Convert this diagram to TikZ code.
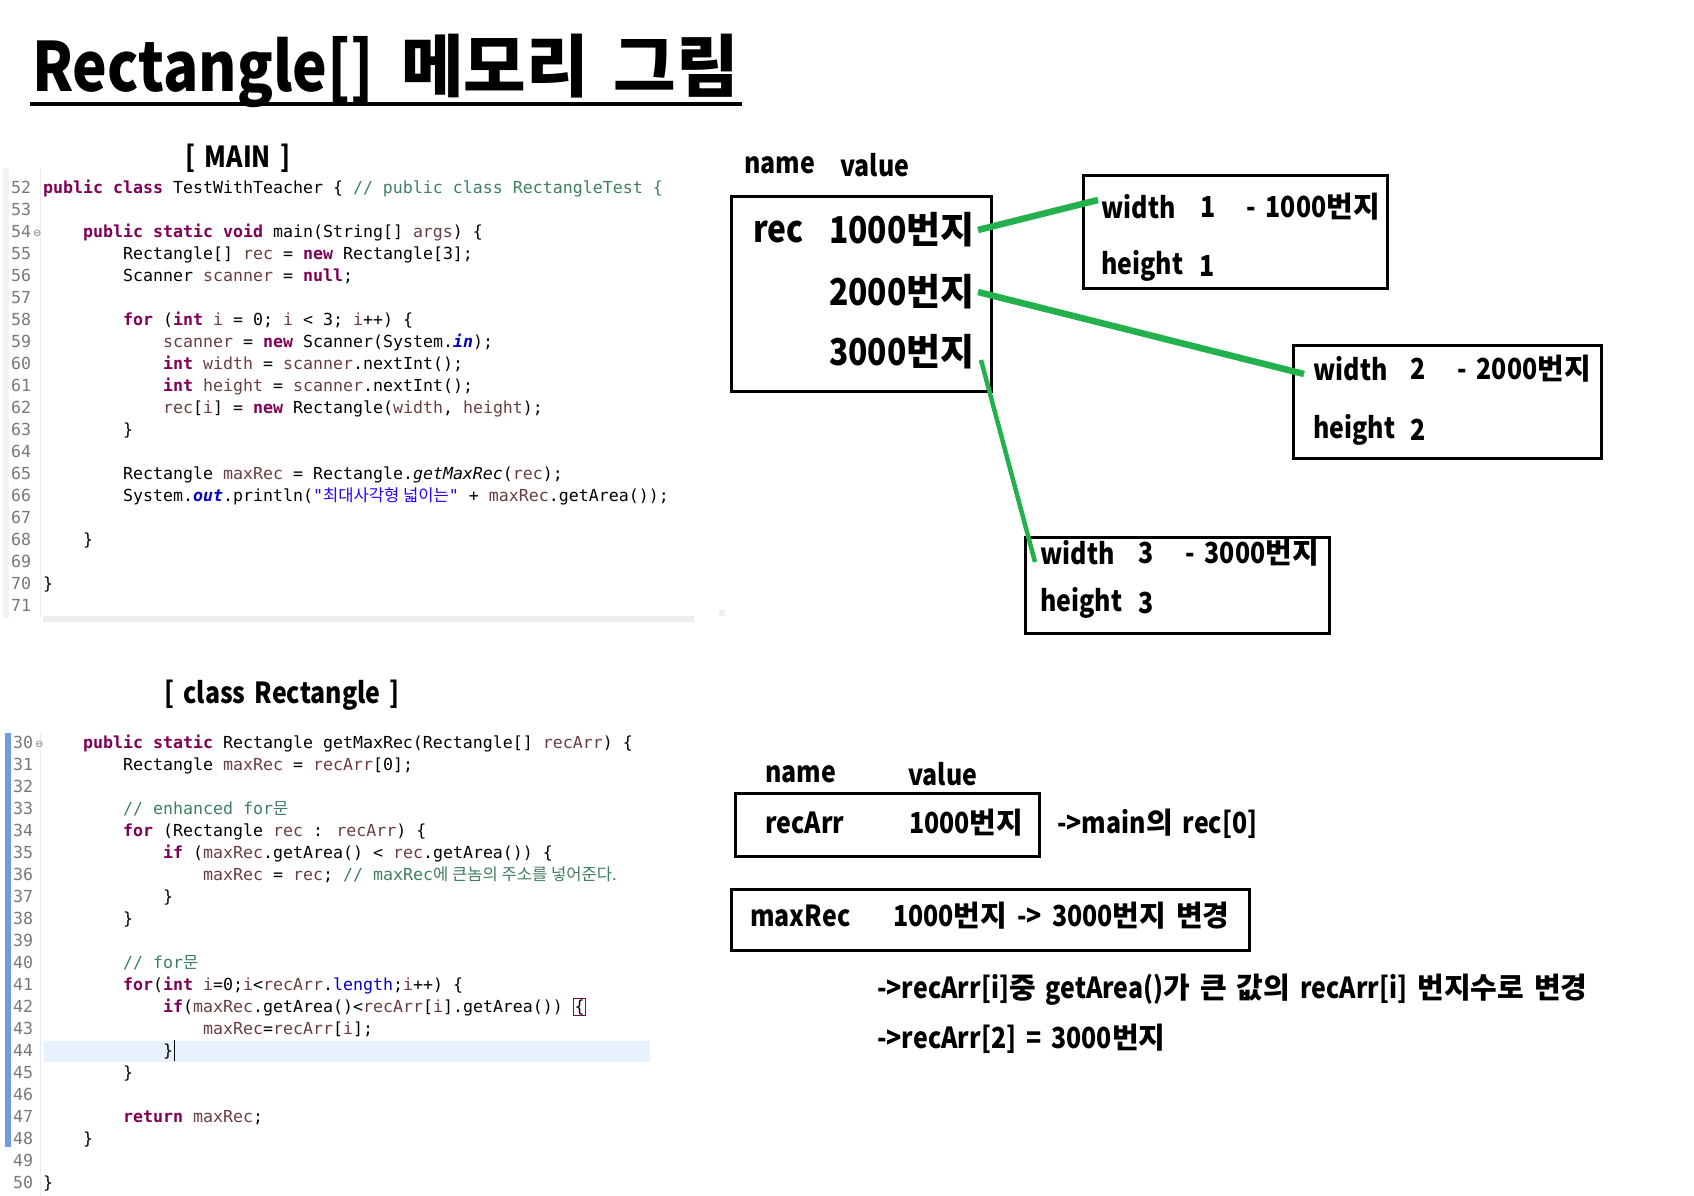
\documentclass[tikz,border=0pt]{standalone}
\usepackage{fontspec}
\setmainfont{Noto Sans CJK KR}[FakeStretch=0.86]
\newfontfamily\codefont{DejaVu Sans Mono}
\newfontfamily\krfont{Noto Sans CJK KR}
\newfontfamily\symfont{DejaVu Sans}
\usetikzlibrary{positioning}

\definecolor{kwcol}{HTML}{7F0055}
\definecolor{varcol}{HTML}{6A3E3E}
\definecolor{cmcol}{HTML}{3F7F5F}
\definecolor{strcol}{HTML}{2A00FF}
\definecolor{fldcol}{HTML}{0000C0}
\definecolor{numgray}{HTML}{787878}
\definecolor{curline}{HTML}{E8F2FE}
\definecolor{rulercol}{HTML}{6F9BE0}
\definecolor{linkgreen}{HTML}{22B14C}

\newcommand\kw[1]{\textcolor{kwcol}{\bfseries #1}}
\newcommand\lv[1]{\textcolor{varcol}{#1}}
\newcommand\cm[1]{\textcolor{cmcol}{#1}}
\newcommand\st[1]{\textcolor{strcol}{#1}}
\newcommand\sv[1]{\textcolor{fldcol}{\bfseries\itshape #1}}
\newcommand\fl[1]{\textcolor{fldcol}{#1}}
\newcommand\hg[1]{{\krfont #1}}
\newcommand\hdrfont{\bfseries\fontsize{29}{34}\selectfont\spaceskip 9pt\relax}
\newcommand\lblfont{\bfseries\fontsize{29}{34}\selectfont\spaceskip 10pt\relax}

\tikzset{
  code/.style={anchor=base west, inner sep=0, font=\codefont\fontsize{16.6}{20}\selectfont},
  lnum/.style={code, text=numgray},
  fold/.style={anchor=base west, inner sep=0, text=numgray, font=\symfont\fontsize{10}{12}\selectfont},
  hdr/.style={inner sep=0, font=\hdrfont},
  lbl/.style={anchor=west, inner sep=0, font=\lblfont},
  big/.style={anchor=west, inner sep=0, font=\bfseries\fontsize{37}{44}\selectfont},
  memline/.style={line width=3pt},
  link/.style={linkgreen, line width=6.5pt},
}

\begin{document}
\begin{tikzpicture}[x=1pt,y=-1pt]
    \useasboundingbox (0,0) rectangle (1694,1196);

    % 제목
    \node[anchor=base west, inner sep=0, font=\bfseries\fontsize{68}{78}\selectfont] (title) at (32,92)
        {Rectangle[]\hspace{27pt}\hg{메모리}\hspace{25pt}\hg{그림}};
    \draw[line width=4.5pt] (30,104) -- (742,104);

    % [ MAIN ] 코드
    \node[hdr] (hmain) at (238,158) {[ MAIN ]};
    \fill[black!5] (3,168) rectangle (9,618);
    \draw[black!8] (40,168) -- (40,618);
    \fill[black!7] (43,616) rectangle (694,622);
    \fill[black!7] (719,610) rectangle (725,616);
    \foreach \n in {52,...,71}
        \node[lnum] (ln\n) at (11,{193+22*(\n-52)}) {\n};
    \node[fold] (fd54) at (33,236) {⊖};

    \node[code] (m52) at (43,193) {\kw{public} \kw{class} TestWithTeacher \{ \cm{// public class RectangleTest \{}};
    \node[code] (m54) at (83,237) {\kw{public} \kw{static} \kw{void} main(String[] \lv{args}) \{};
    \node[code] (m55) at (123,259) {Rectangle[] \lv{rec} = \kw{new} Rectangle[3];};
    \node[code] (m56) at (123,281) {Scanner \lv{scanner} = \kw{null};};
    \node[code] (m58) at (123,325) {\kw{for} (\kw{int} \lv{i} = 0; \lv{i} < 3; \lv{i}++) \{};
    \node[code] (m59) at (163,347) {\lv{scanner} = \kw{new} Scanner(System.\sv{in});};
    \node[code] (m60) at (163,369) {\kw{int} \lv{width} = \lv{scanner}.nextInt();};
    \node[code] (m61) at (163,391) {\kw{int} \lv{height} = \lv{scanner}.nextInt();};
    \node[code] (m62) at (163,413) {\lv{rec}[\lv{i}] = \kw{new} Rectangle(\lv{width}, \lv{height});};
    \node[code] (m63) at (123,435) {\}};
    \node[code] (m65) at (123,479) {Rectangle \lv{maxRec} = Rectangle.\textit{getMaxRec}(\lv{rec});};
    \node[code] (m66) at (123,501) {System.\sv{out}.println(\st{"\hg{최대사각형 넓이는}"} + \lv{maxRec}.getArea());};
    \node[code] (m68) at (83,545) {\}};
    \node[code] (m70) at (43,589) {\}};

    % [ class Rectangle ] 코드
    \node[hdr] (hrect) at (282,695) {[ class Rectangle ]};
    \fill[rulercol] (5,733) rectangle (11,1147);
    \draw[black!8] (40,733) -- (40,1196);
    \fill[curline] (44,1041) rectangle (650,1062);
    \foreach \n in {30,...,50}
        \node[lnum] (lr\n) at (13,{748+22*(\n-30)}) {\n};
    \node[fold] (fd30) at (35,747) {⊖};

    \node[code] (r30) at (83,748) {\kw{public} \kw{static} Rectangle getMaxRec(Rectangle[] \lv{recArr}) \{};
    \node[code] (r31) at (123,770) {Rectangle \lv{maxRec} = \lv{recArr}[0];};
    \node[code] (r33) at (123,814) {\cm{// enhanced for\hg{문}}};
    \node[code] (r34) at (123,836) {\kw{for} (Rectangle \lv{rec} : \lv{recArr}) \{};
    \node[code] (r35) at (163,858) {\kw{if} (\lv{maxRec}.getArea() < \lv{rec}.getArea()) \{};
    \node[code] (r36) at (203,880) {\lv{maxRec} = \lv{rec}; \cm{// maxRec\hg{에 큰놈의 주소를 넣어준다.}}};
    \node[code] (r37) at (163,902) {\}};
    \node[code] (r38) at (123,924) {\}};
    \node[code] (r40) at (123,968) {\cm{// for\hg{문}}};
    \node[code] (r41) at (123,990) {\kw{for}(\kw{int} \lv{i}=0;\lv{i}<\lv{recArr}.\fl{length};\lv{i}++) \{};
    \node[code] (r42) at (163,1012) {\kw{if}(\lv{maxRec}.getArea()<\lv{recArr}[\lv{i}].getArea())};
    \node[code, draw=kwcol, line width=1pt, inner sep=1pt, right=10pt of r42.base east, anchor=base west] (brace) {\{};
    \node[code] (r43) at (203,1034) {\lv{maxRec}=\lv{recArr}[\lv{i}];};
    \node[code] (r44) at (163,1056) {\}\hspace{1pt}\rule[-5pt]{1.3pt}{21pt}};
    \node[code] (r45) at (123,1078) {\}};
    \node[code] (r47) at (123,1122) {\kw{return} \lv{maxRec};};
    \node[code] (r48) at (83,1144) {\}};
    \node[code] (r50) at (43,1188) {\}};

    % rec 배열 메모리
    \node[lbl] (nm1) at (744,165) {name};
    \node[lbl] (vl1) at (840,165) {value};
    \draw[memline] (731,196) rectangle (991,391);
    \node[big] (rec) at (753,232) {rec};
    \node[big] (v1) at (829,230) {1000\hg{번지}};
    \node[big] (v2) at (829,292) {2000\hg{번지}};
    \node[big] (v3) at (829,352) {3000\hg{번지}};

    % 객체 1
    \draw[memline] (1083,175) rectangle (1387,288);
    \node[lbl] (w1) at (1101,207) {width};
    \node[lbl] (w1v) at (1200,207) {1};
    \node[lbl] (a1) at (1246,207) {- 1000\hg{번지}};
    \node[lbl] (h1) at (1101,266) {height};
    \node[lbl] (h1v) at (1199,266) {1};

    % 객체 2
    \draw[memline] (1293,345) rectangle (1601,458);
    \node[lbl] (w2) at (1313,369) {width};
    \node[lbl] (w2v) at (1410,369) {2};
    \node[lbl] (a2) at (1457,369) {- 2000\hg{번지}};
    \node[lbl] (h2) at (1313,430) {height};
    \node[lbl] (h2v) at (1410,430) {2};

    % 객체 3
    \draw[memline] (1025,537) rectangle (1329,633);
    \node[lbl] (w3) at (1040,553) {width};
    \node[lbl] (w3v) at (1138,553) {3};
    \node[lbl] (a3) at (1185,553) {- 3000\hg{번지}};
    \node[lbl] (h3) at (1040,603) {height};
    \node[lbl] (h3v) at (1138,603) {3};

    % 주소 연결
    \draw[link] ([xshift=3pt]v1.east) -- ([xshift=-3pt,yshift=7pt]w1.west);
    \draw[link] ([xshift=3pt]v2.east) -- ([xshift=-9pt,yshift=-5pt]w2.west);
    \draw[link, line width=4.5pt] ([xshift=6pt,yshift=-8pt]v3.east) -- ([xshift=-5pt,yshift=-9pt]w3.west);

    % getMaxRec 메모리
    \node[lbl] (nm2) at (765,774) {name};
    \node[lbl] (vl2) at (908,774) {value};
    \draw[memline] (735,793) rectangle (1039,856);
    \node[lbl] (ra) at (765,823) {recArr};
    \node[lbl] (rav) at (909,823) {1000\hg{번지}};
    \node[lbl] (ranote) at (1057,824) {->main\hg{의} rec[0]};
    \draw[memline] (731,889) rectangle (1249,950);
    \node[lbl] (mr) at (750,916) {maxRec};
    \node[lbl] (mrv) at (893,916) {1000\hg{번지} -> 3000\hg{번지} \hg{변경}};
    \node[lbl] (note1) at (877,990) {->recArr[i]\hg{중} getArea()\hg{가} \hg{큰} \hg{값의} recArr[i] \hg{번지수로} \hg{변경}};
    \node[lbl] (note2) at (877,1039) {->recArr[2] = 3000\hg{번지}};
\end{tikzpicture}
\end{document}
